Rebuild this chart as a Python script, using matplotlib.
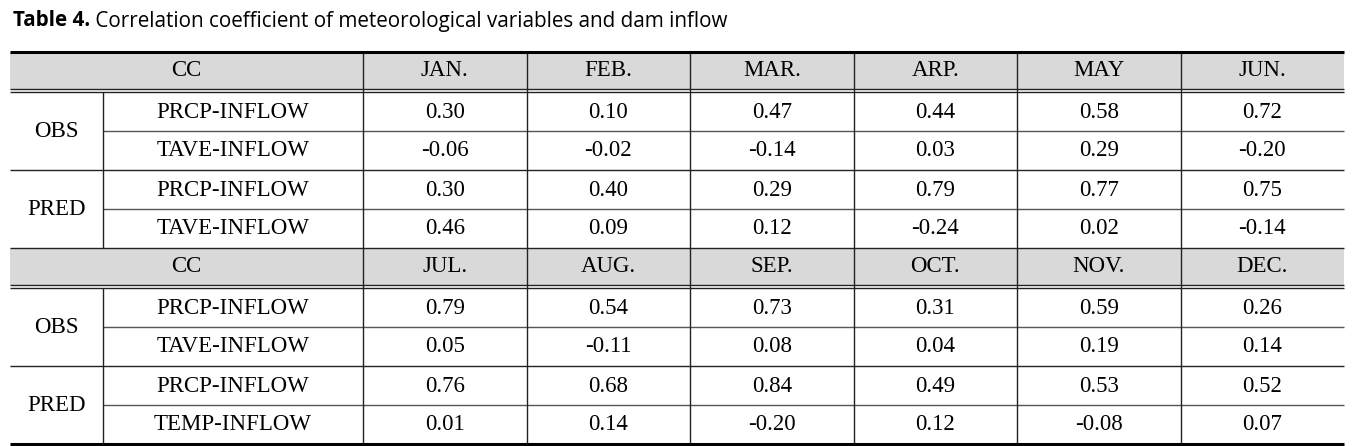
import matplotlib.pyplot as plt

# table content
months_top = ['JAN.', 'FEB.', 'MAR.', 'ARP.', 'MAY', 'JUN.']
months_bot = ['JUL.', 'AUG.', 'SEP.', 'OCT.', 'NOV.', 'DEC.']

obs_prcp_top = ['0.30', '0.10', '0.47', '0.44', '0.58', '0.72']
obs_tave_top = ['-0.06', '-0.02', '-0.14', '0.03', '0.29', '-0.20']
pred_prcp_top = ['0.30', '0.40', '0.29', '0.79', '0.77', '0.75']
pred_tave_top = ['0.46', '0.09', '0.12', '-0.24', '0.02', '-0.14']

obs_prcp_bot = ['0.79', '0.54', '0.73', '0.31', '0.59', '0.26']
obs_tave_bot = ['0.05', '-0.11', '0.08', '0.04', '0.19', '0.14']
pred_prcp_bot = ['0.76', '0.68', '0.84', '0.49', '0.53', '0.52']
pred_tave_bot = ['0.01', '0.14', '-0.20', '0.12', '-0.08', '0.07']

row_labels_top = ['PRCP-INFLOW', 'TAVE-INFLOW', 'PRCP-INFLOW', 'TAVE-INFLOW']
row_labels_bot = ['PRCP-INFLOW', 'TAVE-INFLOW', 'PRCP-INFLOW', 'TEMP-INFLOW']
groups = ['OBS', 'PRED']

title_bold = 'Table 4.'
title_rest = ' Correlation coefficient of meteorological variables and dam inflow'

# layout in pixels
W, H = 1364, 446
x_left, x_grp, x_lab, x_right = 10, 103, 363, 1344
col_w = (x_right - x_lab) / 6
x_cols = [x_lab + i * col_w for i in range(7)]

fig = plt.figure(figsize=(W / 100, H / 100), dpi=100)
ax = fig.add_axes([0, 0, 1, 1])
ax.set_xlim(0, W)
ax.set_ylim(H, 0)
ax.axis('off')

serif = 'Liberation Serif'
fs = 16.5
line_c = '#222222'
inner_c = '#555555'


def block(y_top, months, rows, labels):
    y_hdr_bot = y_top + 37
    # header fill
    ax.add_patch(plt.Rectangle((x_left, y_top), x_right - x_left, y_hdr_bot - y_top,
                               color='#d9d9d9', lw=0, zorder=0))
    ax.text((x_left + x_lab) / 2, (y_top + y_hdr_bot) / 2 + 1, 'CC', family=serif,
            fontsize=fs, ha='center', va='center')
    for i, m in enumerate(months):
        ax.text((x_cols[i] + x_cols[i + 1]) / 2, (y_top + y_hdr_bot) / 2 + 1, m,
                family=serif, fontsize=fs, ha='center', va='center')
    # double line under header
    ax.hlines([y_hdr_bot, y_hdr_bot + 3], x_left, x_right, color=line_c, lw=1.0)
    y0 = y_hdr_bot + 3
    rh = 39
    for r in range(4):
        yc = y0 + rh * r + rh / 2 + 1
        ax.text((x_grp + x_lab) / 2, yc, labels[r], family=serif, fontsize=fs,
                ha='center', va='center')
        for i in range(6):
            ax.text((x_cols[i] + x_cols[i + 1]) / 2, yc, rows[r][i], family=serif,
                    fontsize=fs, ha='center', va='center')
    for g in range(2):
        ax.text((x_left + x_grp) / 2, y0 + rh * (2 * g + 1) + 1, groups[g], family=serif,
                fontsize=fs, ha='center', va='center')
    # inner lines
    ax.hlines([y0 + rh, y0 + 3 * rh], x_grp, x_right, color=inner_c, lw=1.0)
    ax.hlines([y0 + 2 * rh], x_left, x_right, color=line_c, lw=1.0)
    # verticals
    ax.vlines(x_grp, y0, y0 + 4 * rh, color=line_c, lw=1.0)
    ax.vlines(x_cols[:-1], y_top, y0 + 4 * rh, color=line_c, lw=1.0)
    return y0 + 4 * rh


rows_top = [obs_prcp_top, obs_tave_top, pred_prcp_top, pred_tave_top]
rows_bot = [obs_prcp_bot, obs_tave_bot, pred_prcp_bot, pred_tave_bot]

y_mid = block(51.5, months_top, rows_top, row_labels_top)
ax.hlines(y_mid, x_left, x_right, color=line_c, lw=1.0)
y_end = block(y_mid, months_bot, rows_bot, row_labels_bot)

# outer thick lines
ax.hlines([51.5, y_end], x_left, x_right, color='black', lw=2.2)

# title, sized so it ends near x=730 like the source
tfont = 'Open Sans'
tfs = 14.5
t1 = ax.text(13, 21, title_bold, family=tfont, weight='bold', fontsize=tfs,
             ha='left', va='center')
fig.canvas.draw()
x_after = ax.transData.inverted().transform((t1.get_window_extent().x1, 0))[0]
t2 = ax.text(x_after, 21, title_rest, family=tfont, fontsize=tfs, ha='left', va='center')
fig.canvas.draw()
x_end = ax.transData.inverted().transform((t2.get_window_extent().x1, 0))[0]
scale = (730 - 13) / (x_end - 13)
t1.set_fontsize(tfs * scale)
fig.canvas.draw()
x_after = ax.transData.inverted().transform((t1.get_window_extent().x1, 0))[0]
t2.set_position((x_after, 21))
t2.set_fontsize(tfs * scale)

fig.savefig('out.png', dpi=100)
